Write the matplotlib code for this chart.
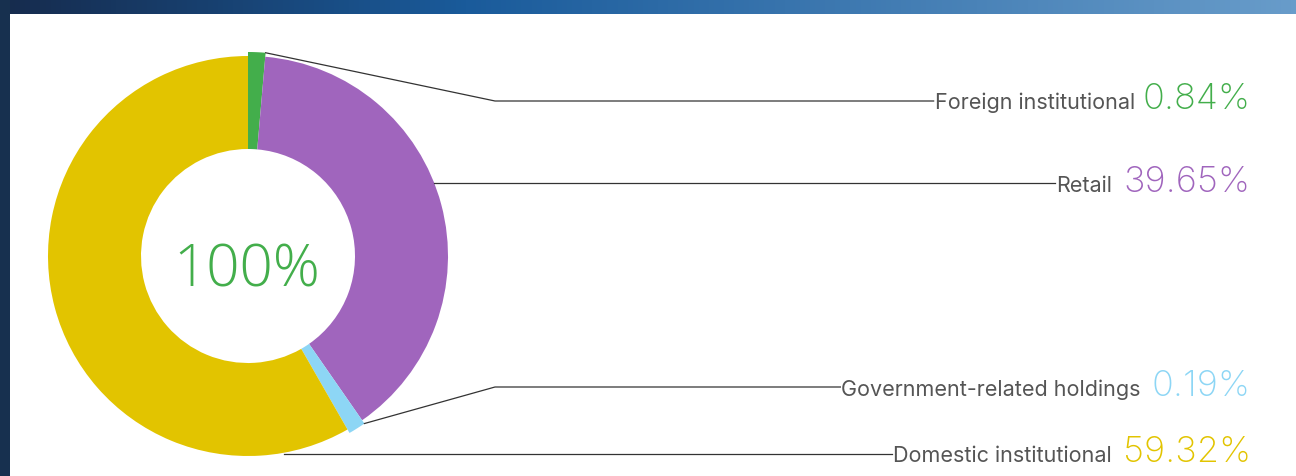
import numpy as np
import matplotlib.pyplot as plt
from matplotlib.colors import LinearSegmentedColormap

# shareholder structure (%), clockwise from 12 o'clock
labels = ['Foreign institutional', 'Retail', 'Government-related holdings', 'Domestic institutional']
shares = [0.84, 39.65, 0.19, 59.32]
pct_text = ['0.84%', '39.65%', '0.19%', '59.32%']
total_text = '100%'
colors = ['#43ae4b', '#a065bd', '#8dd6f5', '#e2c400']

W, H = 1296, 477
fig = plt.figure(figsize=(W / 100, H / 100), dpi=100, facecolor='white')

# header band + left strip
band = fig.add_axes([0, 1 - 15 / H, 1, 15 / H])
cmap = LinearSegmentedColormap.from_list('band', [(0, '#162b4d'), (0.36, '#1a5b9b'), (1, '#689cca')])
band.imshow(np.linspace(0, 1, 256)[None, :], aspect='auto', cmap=cmap, extent=(0, 1, 0, 1))
band.axis('off')
strip = fig.add_axes([0, 0, 10 / W, 1])
strip.set_facecolor('#17304f')
strip.set_xticks([])
strip.set_yticks([])
for s in strip.spines.values():
    s.set_visible(False)

ax = fig.add_axes([0, 0, 1, 1])
ax.patch.set_alpha(0)

cx, cy, R, r = 248, H - 257, 200, 107
# tiny slices get a minimum visible size, like in the original
shown = np.maximum(shares, 1.4)
wedges, _ = ax.pie(shown, colors=colors, startangle=90, counterclock=False,
                   radius=R, center=(cx, cy),
                   wedgeprops=dict(width=R - r, linewidth=0))
# small slices stick out a little past the ring
for i in (0, 2):
    wedges[i].set_radius(R + 4)
    wedges[i].set_width(R + 4 - r)
ax.set_xlim(0, W)
ax.set_ylim(0, H)
ax.axis('off')

ax.text(cx - 1, cy - 14, total_text, ha='center', va='center', color=colors[0],
        fontsize=42, family='Open Sans', fontweight='light')

# label rows: line y, baseline y (pixels from top), gap label->pct
line_y = [102, 184, 388, 455]
base_y = [109, 192, 396, 462]
gaps = [8, 12, 11, 11]
right_x = 1251

fig.canvas.draw()
renderer = fig.canvas.get_renderer()
inv = ax.transData.inverted()
label_left = []
for i in range(4):
    p = ax.text(right_x, H - base_y[i], pct_text[i], ha='right', va='baseline',
                color=colors[i], fontsize=26, family='Inter', fontweight='light')
    bb = p.get_window_extent(renderer)
    x0 = inv.transform((bb.x0, 0))[0]
    t = ax.text(x0 - gaps[i], H - base_y[i], labels[i], ha='right', va='baseline',
                color='#555555', fontsize=15.5, family='Inter')
    bb = t.get_window_extent(renderer)
    label_left.append(inv.transform((bb.x0, 0))[0] - 1)


def rim(w, ang):
    a = np.deg2rad(ang)
    return w.center[0] + w.r * np.cos(a), w.center[1] + w.r * np.sin(a)


lk = dict(color='#333333', lw=0.9)
# foreign: from wedge corner, elbow, then flat
x1, y1 = rim(wedges[0], wedges[0].theta1)
ax.plot([x1, 495, label_left[0]], [y1, H - line_y[0], H - line_y[0]], **lk)
# retail: flat line from ring edge
dy = H - line_y[1] - cy
ax.plot([cx + np.sqrt(R ** 2 - dy ** 2), label_left[1]], [H - line_y[1]] * 2, **lk)
# government
x1, y1 = rim(wedges[2], wedges[2].theta2)
ax.plot([x1, 495, label_left[2]], [y1, H - line_y[2], H - line_y[2]], **lk)
# domestic
dy = H - line_y[3] - cy
ax.plot([cx + np.sqrt(R ** 2 - dy ** 2) + 8, label_left[3]], [H - line_y[3]] * 2, **lk)

fig.savefig('out.png', dpi=100)
